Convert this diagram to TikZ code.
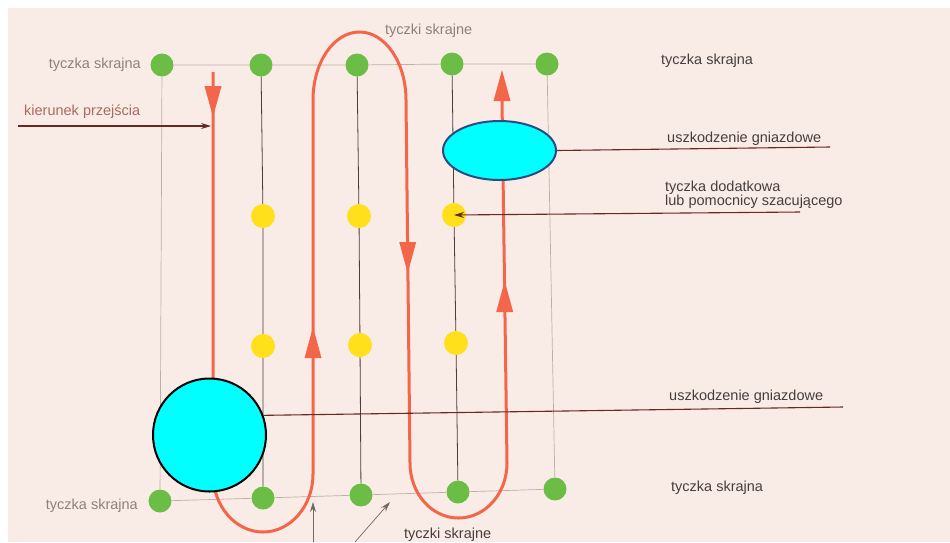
\documentclass[tikz,border=0pt]{standalone}
\usepackage{fontspec}
\setmainfont{Liberation Sans}
\usetikzlibrary{shapes.geometric,arrows.meta}

\definecolor{paper}{RGB}{249,236,230}
\definecolor{routered}{RGB}{243,102,74}
\definecolor{gridline}{RGB}{190,174,166}
\definecolor{poleline}{RGB}{72,62,60}
\definecolor{pointer}{RGB}{105,40,32}
\definecolor{pole}{RGB}{108,189,69}
\definecolor{extra}{RGB}{255,224,27}
\definecolor{lightlabel}{RGB}{145,127,123}
\definecolor{pinklabel}{RGB}{168,108,94}
\definecolor{darklabel}{RGB}{70,62,62}
\definecolor{damage}{RGB}{0,255,255}
\definecolor{rim}{RGB}{43,76,128}

% arrowheads sitting on the walking route
\newcommand{\tipdown}[2]{\fill[routered] (#1-8.5,#2-31) -- (#1+8.5,#2-31) -- (#1,#2) -- cycle;}
\newcommand{\tipup}[2]{\fill[routered] (#1-8.5,#2+31) -- (#1+8.5,#2+31) -- (#1,#2) -- cycle;}

\begin{document}
\begin{tikzpicture}[x=1pt,y=-1pt,
  lbl/.style={font=\fontsize{14.5}{14.5}\selectfont, inner sep=0pt},
  edgepole/.style={circle, fill=pole, inner sep=0pt, minimum size=23pt},
  midpole/.style={circle, fill=extra, inner sep=0pt, minimum size=24pt},
  frame/.style={draw=gridline, line width=0.7pt},
  column/.style={draw=poleline, line width=0.8pt},
  walk/.style={draw=routered, line width=3pt},
  leader/.style={draw=pointer, line width=1.1pt},
  leadtip/.style={-{Stealth[length=10pt,width=6pt]}},
  nest/.style={fill=damage, line width=2pt}
]
\useasboundingbox (0,0) rectangle (950,542);
\fill[white] (0,0) rectangle (950,542);
\fill[paper] (8,8) rectangle (950,542);

% boundary poles
\node[edgepole] (g1) at (162,65) {};
\node[edgepole] (g2) at (261,65) {};
\node[edgepole] (g3) at (357,65) {};
\node[edgepole] (g4) at (452,64) {};
\node[edgepole] (g5) at (547,64) {};
\node[edgepole] (b1) at (160,501) {};
\node[edgepole] (b2) at (263,498) {};
\node[edgepole] (b3) at (361,495) {};
\node[edgepole] (b4) at (458,492) {};
\node[edgepole] (b5) at (555,489) {};

% additional poles
\node[midpole] (y1) at (263,216) {};
\node[midpole] (y2) at (359,216) {};
\node[midpole] (y3) at (454,215) {};
\node[midpole] (z1) at (263,346) {};
\node[midpole] (z2) at (360,345) {};
\node[midpole] (z3) at (456,343) {};

% plot frame
\draw[frame] (g1) -- (g2) -- (g3) -- (g4) -- (g5);
\draw[frame] (b1) -- (b2) -- (b3) -- (b4) -- (b5);
\draw[frame] (g1) -- (b1);
\draw[frame] (g5) -- (b5);

% pole rows
\draw[column] (g2) -- (y1) -- (z1) -- (b2);
\draw[column] (g3) -- (y2) -- (z2) -- (b3);
\draw[column] (g4) -- (y3) -- (z3) -- (b4);

% walking route
\draw[walk] (213,72) -- (213,474)
  .. controls (213,506) and (235.4,532) .. (263,532)
  .. controls (290.6,532) and (313,506) .. (313,474)
  -- (313,100)
  .. controls (313,62.4) and (333.8,32) .. (359.5,32)
  .. controls (385.2,32) and (406,62.4) .. (406,100)
  -- (410,463)
  .. controls (410,493.4) and (431.5,518) .. (458.5,518)
  .. controls (485.5,518) and (507,493.4) .. (507,463)
  -- (502,100);
\tipdown{213}{117}
\tipup{313}{327}
\tipdown{407.7}{273}
\tipup{504.7}{281}
\tipup{502}{70}

% labels
\node[lbl, text=lightlabel, anchor=east] (lt) at (141,65) {tyczka skrajna};
\node[lbl, text=pinklabel, anchor=west] (lk) at (24,112) {kierunek przejścia};
\node[lbl, text=lightlabel, anchor=west] (lts) at (385,31) {tyczki skrajne};
\node[lbl, text=darklabel, anchor=west] (rt) at (661,61) {tyczka skrajna};
\node[lbl, text=darklabel, anchor=west] (ru) at (667,139) {uszkodzenie gniazdowe};
\node[lbl, text=darklabel, anchor=west, align=left] (rd) at (665,195)
  {tyczka dodatkowa\\lub pomocnicy szacującego};
\node[lbl, text=darklabel, anchor=west] (rb) at (669,397) {uszkodzenie gniazdowe};
\node[lbl, text=darklabel, anchor=west] (rs) at (671,488) {tyczka skrajna};
\node[lbl, text=lightlabel, anchor=east] (lb) at (138,506) {tyczka skrajna};
\node[lbl, text=darklabel, anchor=west] (bts) at (404,535) {tyczki skrajne};

% nest damage
\node[nest, ellipse, draw=rim, minimum width=113pt, minimum height=59pt,
  inner sep=0pt] (hole1) at (499.5,150.5) {};
\node[nest, circle, draw=black, minimum size=113pt, inner sep=0pt]
  (hole2) at (209.5,435) {};

% leader lines
\coordinate (kstart) at (18,126);
\coordinate (kend) at (211,126);
\coordinate (u1end) at (830,147);
\coordinate (dstart) at (800,212);
\coordinate (u2end) at (843,407);
\coordinate (p1start) at (313,542);
\coordinate (p1end) at (313,502);
\coordinate (p2start) at (355,542);
\coordinate (p2end) at (390,502);

\draw[leader, leadtip] (kstart) -- (kend);
\draw[leader] (hole1.east) -- (u1end);
\draw[leader, leadtip] (dstart) -- (y3.center);
\draw[leader] (hole2.20) -- (u2end);
\draw[draw=gridline!60!black, line width=0.7pt, leadtip] (p1start) -- (p1end);
\draw[draw=gridline!60!black, line width=0.7pt, leadtip] (p2start) -- (p2end);
\end{tikzpicture}
\end{document}
